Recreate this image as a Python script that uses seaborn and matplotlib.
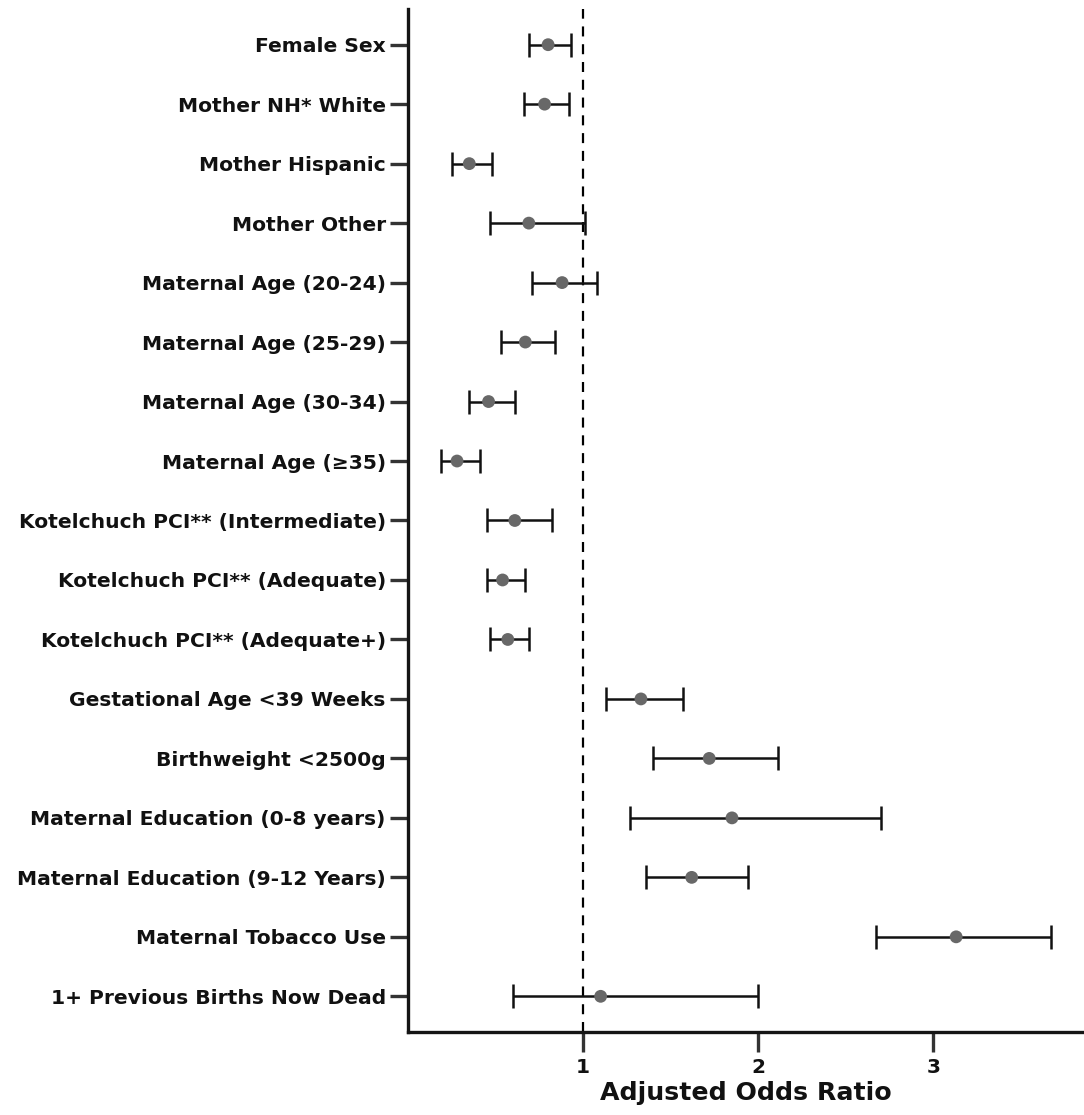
import matplotlib
matplotlib.use("Agg")
import matplotlib.pyplot as plt
import seaborn as sns
import numpy as np
import pandas as pd

categories = [
    "Female Sex",
    "Mother NH* White",
    "Mother Hispanic",
    "Mother Other",
    "Maternal Age (20-24)",
    "Maternal Age (25-29)",
    "Maternal Age (30-34)",
    "Maternal Age (\u226535)",
    "Kotelchuch PCI** (Intermediate)",
    "Kotelchuch PCI** (Adequate)",
    "Kotelchuch PCI** (Adequate+)",
    "Gestational Age <39 Weeks",
    "Birthweight <2500g",
    "Maternal Education (0-8 years)",
    "Maternal Education (9-12 Years)",
    "Maternal Tobacco Use",
    "1+ Previous Births Now Dead",
]
odds_ratio = [0.80, 0.78, 0.35, 0.69, 0.88, 0.67, 0.46, 0.28, 0.61, 0.54, 0.57,
              1.33, 1.72, 1.85, 1.62, 3.13, 1.10]
ci_lower = [0.69, 0.66, 0.25, 0.47, 0.71, 0.53, 0.35, 0.19, 0.45, 0.45, 0.47,
            1.13, 1.40, 1.27, 1.36, 2.67, 0.60]
ci_upper = [0.93, 0.92, 0.48, 1.01, 1.08, 0.84, 0.61, 0.41, 0.82, 0.67, 0.69,
            1.57, 2.11, 2.70, 1.94, 3.67, 2.00]
x_ticks = [1, 2, 3]

df = pd.DataFrame({
    "variable": categories,
    "pos": np.arange(len(categories)),
    "aor": odds_ratio,
    "lo": ci_lower,
    "hi": ci_upper,
})

sns.set_theme(style="ticks")
plt.rcParams["font.family"] = ["DejaVu Sans"]
plt.rcParams["font.weight"] = "bold"

fig = plt.figure(figsize=(10.84, 11.15), dpi=100)
ax = fig.add_axes([408 / 1084, 1 - 1032 / 1115, 1 - 408 / 1084, (1032 - 9) / 1115])

ax.axvline(1, color="black", linestyle=(0, (4.5, 3.5)), linewidth=1.6, zorder=1)

ax.errorbar(
    df["aor"], df["pos"],
    xerr=[df["aor"] - df["lo"], df["hi"] - df["aor"]],
    fmt="none", ecolor="#111111", elinewidth=1.8, capsize=8.3, capthick=1.8, zorder=2,
)
sns.scatterplot(data=df, x="aor", y="pos", color="#686868", s=85, edgecolor="none",
                zorder=3, ax=ax, legend=False)

ax.set_xlim(0, 3.86)
ax.set_ylim(16.6, -0.6)
ax.set_yticks(df["pos"])
ax.set_yticklabels(categories, fontsize=14.6, fontweight="bold", color="#111111")
ax.set_xticks(x_ticks)
ax.set_xticklabels([str(t) for t in x_ticks], fontsize=14.5, fontweight="bold", color="#111111")
ax.set_ylabel("")
ax.set_xlabel("Adjusted Odds Ratio", fontsize=18.2, fontweight="bold", color="#111111", labelpad=3)

for side in ["top", "right"]:
    ax.spines[side].set_visible(False)
for side in ["left", "bottom"]:
    ax.spines[side].set_linewidth(2.4)
    ax.spines[side].set_color("#151515")

ax.tick_params(axis="y", length=13, width=2.4, color="#333333", pad=3)
ax.tick_params(axis="x", length=14.5, width=2.4, color="#333333", pad=4)

fig.savefig("out.png", dpi=100)
